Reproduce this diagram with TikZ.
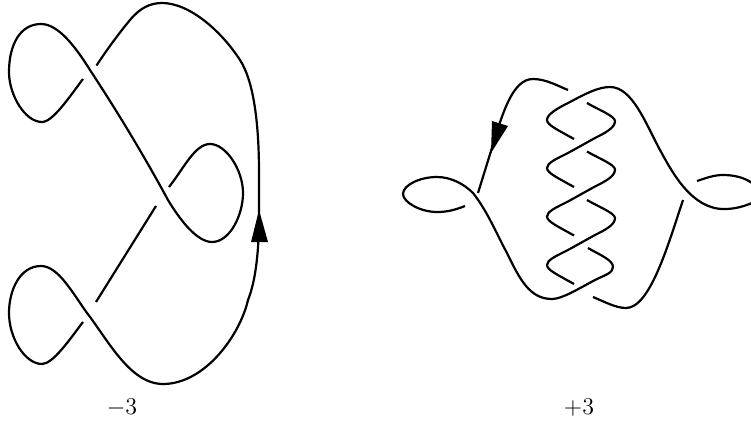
\documentclass[tikz,border=0pt]{standalone}
\tikzset{strand/.style={line width=1.1pt,line cap=butt,line join=round},
 lab/.style={font=\fontsize{12.5}{14}\selectfont,inner sep=0pt}}
\begin{document}
\begin{tikzpicture}[x=0.5pt,y=-0.5pt]
\useasboundingbox (0,0) rectangle (751,423);
\clip (0,0) rectangle (751,423);
% left knot
\draw[strand] (83,79) .. controls (70,96) and (53,122) .. (42,122)
  .. controls (25,122) and (9,95) .. (9,72)
  .. controls (9,45) and (20,24) .. (41,24)
  .. controls (58,24) and (75,46) .. (90,70)
  .. controls (115,108) and (142,152) .. (168,200)
  .. controls (180,220) and (197,242) .. (212,242)
  .. controls (230,242) and (243,215) .. (243,193)
  .. controls (243,170) and (226,144) .. (210,144)
  .. controls (195,144) and (184,168) .. (169,187);
\draw[strand] (96.5,65.5) .. controls (108,48) and (120,32) .. (130,20)
  .. controls (140,8) and (150,3) .. (162,3)
  .. controls (190,3) and (222,32) .. (240,60)
  .. controls (253,80) and (259,120) .. (259,173)
  -- (259,215)
  .. controls (259,250) and (256,280) .. (248,300)
  .. controls (240,335) and (205,384) .. (163,384)
  .. controls (130,384) and (108,340) .. (87,313)
  .. controls (72,292) and (58,266) .. (41,266)
  .. controls (20,266) and (9,290) .. (9,313)
  .. controls (9,338) and (25,364) .. (42,364)
  .. controls (53,364) and (70,339) .. (83,322);
\draw[strand] (156,206) -- (96,302);
\fill (259,210) -- (268,242) -- (251,242) -- cycle;
% right knot
\draw[strand] (465,206) .. controls (455,210) and (447,212) .. (437,212)
  .. controls (420,212) and (403,202) .. (403,194)
  .. controls (403,185) and (420,177) .. (437,177)
  .. controls (452,177) and (465,185) .. (473,193)
  .. controls (488,212) and (497,235) .. (507,253)
  .. controls (520,280) and (530,299) .. (552,299)
  .. controls (562,299) and (578,289) .. (595,280)
  .. controls (605,275) and (613,273) .. (613,267)
  .. controls (613,260) and (600,255) .. (588,248);
\draw[strand] (574,139) .. controls (558,130) and (547,125) .. (547,120)
  .. controls (547,114) and (558,108) .. (570,102)
  .. controls (585,94) and (598,87) .. (610,87)
  .. controls (632,87) and (645,122) .. (660,150)
  .. controls (672,172) and (692,210) .. (725,209)
  .. controls (737,209) and (747,205) .. (752,203)
  .. controls (758,199) and (758,187) .. (752,183)
  .. controls (745,178) and (735,175) .. (723,175)
  .. controls (714,175) and (706,178) .. (697,181);
\foreach \d in {0,48.5,97}{
  \draw[strand] (587,103+\d) .. controls (597,109+\d) and (615,116+\d) .. (615,121+\d)
    .. controls (615,128+\d) and (605,133+\d) .. (595,138+\d)
    -- (568,153+\d)
    .. controls (556,159+\d) and (547,163+\d) .. (547,168+\d)
    .. controls (547,173+\d) and (558,178+\d) .. (574,187+\d);
}
\draw[strand] (568,90) .. controls (558,86) and (546,79) .. (533,79)
  .. controls (512,79) and (502,115) .. (491,151) -- (478,193);
\fill (491,153) -- (492,121) -- (508,126) -- cycle;
\draw[strand] (593,297) .. controls (605,302) and (616,308) .. (626,308)
  .. controls (650,308) and (668,245) .. (683,200);
\node[lab] (a) at (122,408) {$-3$};
\node[lab] (b) at (579,408) {$+3$};
\end{tikzpicture}
\end{document}
